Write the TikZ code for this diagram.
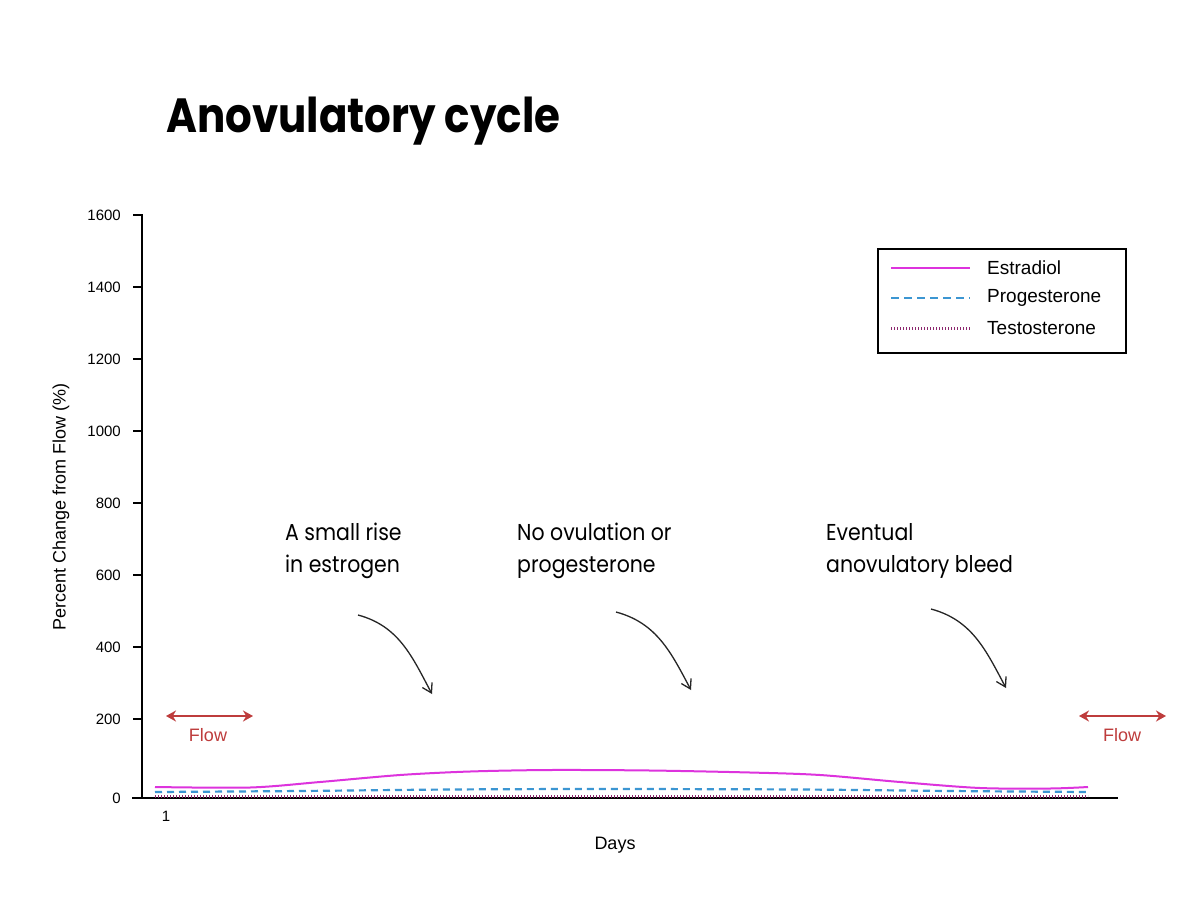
\documentclass[tikz,border=0pt]{standalone}
\usepackage{fontspec}
\usepackage{graphicx}
\usetikzlibrary{arrows.meta}
\newfontfamily\titlefont{Poppins}
\newfontfamily\annfont{Poppins}
\newfontfamily\arialfont{Liberation Sans}
\definecolor{estr}{HTML}{DD33DD}
\definecolor{prog}{HTML}{3C96D2}
\definecolor{testo}{HTML}{8C286E}
\definecolor{flowred}{HTML}{BE3C3C}
\tikzset{
  ticklab/.style={anchor=east, inner sep=0pt, font=\arialfont\fontsize{15}{18}\selectfont},
  axislab/.style={inner sep=0pt, font=\arialfont\fontsize{18}{21}\selectfont},
  legtext/.style={anchor=west, inner sep=0pt, font=\arialfont\fontsize{19}{22}\selectfont},
  annot/.style={anchor=base west, inner sep=0pt, font=\annfont\fontsize{23}{28}\selectfont},
  flowlab/.style={inner sep=0pt, text=flowred, font=\arialfont\fontsize{18}{21}\selectfont},
  flowarrow/.style={draw=flowred, line width=2.6pt, {Stealth[length=10pt,width=11pt]}-{Stealth[length=10pt,width=11pt]}},
  curvearrow/.style={draw=black!85, line width=1.3pt, -{Straight Barb[length=9pt,width=11pt]}},
  axisline/.style={line width=2pt, black},
  estrline/.style={draw=estr, line width=2pt},
  progline/.style={draw=prog, line width=2.2pt, dash pattern=on 7pt off 5pt},
  testoline/.style={draw=testo, line width=3pt, dash pattern=on 1.1pt off 1.9pt},
}
\begin{document}
\begin{tikzpicture}[x=1pt,y=-1pt]
\useasboundingbox (0,0) rectangle (1200,900);
\fill[white] (0,0) rectangle (1200,900);

% title
\node[anchor=base west, inner sep=0pt, font=\titlefont\bfseries\fontsize{48}{56}\selectfont] (title) at (166,132) {\scalebox{0.875}[1]{Anovulatory cycle}};

% axes
\coordinate (ytop) at (142,214);
\coordinate (origin) at (142,798);
\coordinate (xend) at (1118,798);
\draw[axisline] (ytop) -- (origin);
\draw[axisline] (132,798) -- (xend);
\foreach \v/\yy in {1600/215,1400/287,1200/359,1000/431,800/503,600/575,400/647,200/719,0/798}{
  \draw[line width=1.6pt] (133,\yy) -- (142,\yy);
  \node[ticklab] (t\v) at (121,\yy) {\v};
}
\node[ticklab, anchor=center] (xone) at (166,816) {1};
\node[axislab] (days) at (615,845) {Days};
\node[axislab, rotate=90] (ylab) at (61,507) {Percent Change from Flow (\%)};

% curves
\draw[testoline] plot coordinates {(155,796) (1088,796)};
\draw[progline] plot[smooth] coordinates {(155,792) (300,791) (450,789.5) (600,789) (800,789.5) (950,791) (1088,792)};
\draw[estrline] plot[smooth] coordinates {(155,787) (250,787.5) (320,782) (400,775) (470,771.5) (550,770) (650,770.5) (750,772.5) (820,775) (900,782) (980,788) (1050,788.5) (1088,787)};

% legend
\node[draw=black, line width=1.5pt, minimum width=248pt, minimum height=104pt, anchor=north west, inner sep=0pt] (legend) at (877,248) {};
\coordinate (l1a) at (891,268); \coordinate (l1b) at (970,268);
\coordinate (l2a) at (891,298); \coordinate (l2b) at (970,298);
\coordinate (l3a) at (891,328); \coordinate (l3b) at (970,328);
\draw[estrline] (l1a) -- (l1b);
\draw[progline, dash pattern=on 8pt off 5pt] (l2a) -- (l2b);
\draw[testoline] (l3a) -- (l3b);
\node[legtext] (leg1) at (987,268) {Estradiol};
\node[legtext] (leg2) at (987,298) {Progesterone};
\node[legtext] (leg3) at (987,328.5) {Testosterone};

% flow
\coordinate (fl1) at (166,716); \coordinate (fl2) at (253,716);
\coordinate (fr1) at (1079,716); \coordinate (fr2) at (1166,716);
\draw[flowarrow] (fl1) -- (fl2);
\draw[flowarrow] (fr1) -- (fr2);
\node[flowlab] (flowL) at (208,735) {Flow};
\node[flowlab] (flowR) at (1122,735) {Flow};

% annotations
\node[annot] (a1) at (285,540) {\scalebox{0.89}[1]{A small rise}};
\node[annot] (a1b) at (285,572) {\scalebox{0.89}[1]{in estrogen}};
\node[annot] (a2) at (517,540) {\scalebox{0.89}[1]{No ovulation or}};
\node[annot] (a2b) at (517,572) {\scalebox{0.89}[1]{progesterone}};
\node[annot] (a3) at (826,540) {\scalebox{0.89}[1]{Eventual}};
\node[annot] (a3b) at (826,572) {\scalebox{0.89}[1]{anovulatory bleed}};

\coordinate (c1a) at (358,615); \coordinate (c1b) at (432,694);
\coordinate (c2a) at (616,612); \coordinate (c2b) at (691,690);
\coordinate (c3a) at (931,609); \coordinate (c3b) at (1006,688);
\draw[curvearrow] (c1a) to[out=-15, in=118] (c1b);
\draw[curvearrow] (c2a) to[out=-15, in=118] (c2b);
\draw[curvearrow] (c3a) to[out=-15, in=118] (c3b);
\end{tikzpicture}
\end{document}
